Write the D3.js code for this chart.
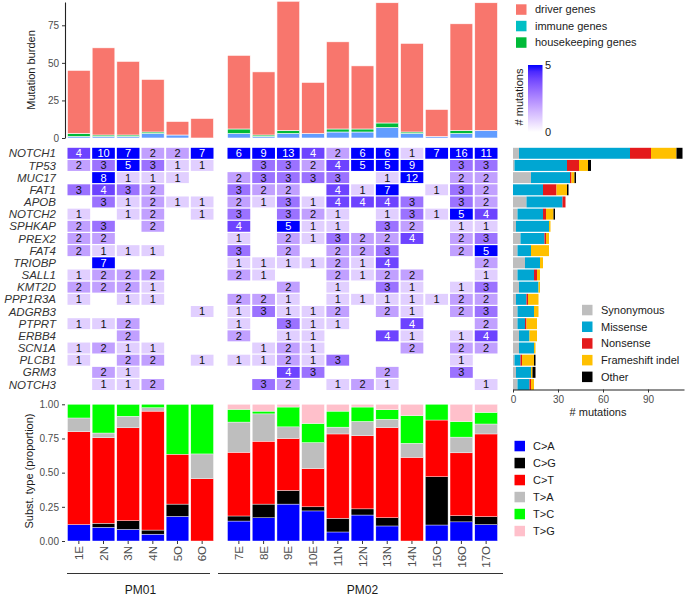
<!DOCTYPE html>
<html><head><meta charset="utf-8">
<script src="https://cdn.jsdelivr.net/npm/d3@7"></script>
<style>body{margin:0;background:#fff}svg{font-family:"Liberation Sans",Arial,sans-serif;display:block}</style>
</head><body><svg id="c" width="685" height="598"></svg>
<script>
// ---------------- DATA ----------------
const samplesPM01 = ["1E","2N","3N","4N","5O","6O"];
const samplesPM02 = ["7E","8E","9E","10E","11N","12N","13N","14N","15O","16O","17O"];
const groups = ["PM01","PM02"];

// mutation burden (stacked): immune / housekeeping / driver
const burdenImmune       = [1,1,1,3,2,0, 3,1,3,3,4,4,7,3,1,3,5];
const burdenHousekeeping = [2,1,1,1,0,0, 3,1,2,0,2,2,3,1,0,2,0];
const burdenDriver       = [42,58,49,35,9,13, 49,42,86,34,58,42,80,59,18,71,85];
const burdenTicks = [0,25,50,75];

const genes = ["NOTCH1","TP53","MUC17","FAT1","APOB","NOTCH2","SPHKAP","PREX2","FAT4","TRIOBP",
               "SALL1","KMT2D","PPP1R3A","ADGRB3","PTPRT","ERBB4","SCN1A","PLCB1","GRM3","NOTCH3"];

// # mutations per gene (rows) x sample (cols); 0 = none
const heatValues = [
 [4,10,7,2,2,7, 6,9,13,4,2,6,6,1,7,16,11],
 [2,3,5,3,1,1, 0,3,3,2,4,5,5,9,0,3,3],
 [0,8,1,1,1,0, 2,3,3,3,3,0,1,12,0,2,2],
 [3,4,3,2,0,0, 3,2,2,0,4,1,7,0,1,3,2],
 [0,3,1,2,1,1, 2,1,3,1,4,4,4,3,0,3,2],
 [1,0,1,2,0,1, 3,0,3,2,1,0,1,3,1,5,4],
 [2,3,0,2,0,0, 4,0,5,1,1,0,3,2,0,1,1],
 [2,2,0,0,0,0, 1,0,2,1,3,2,2,4,0,2,3],
 [2,1,1,1,0,0, 3,0,2,0,2,2,3,0,0,2,5],
 [0,7,0,0,0,0, 1,1,1,1,2,1,4,0,0,0,2],
 [1,2,2,2,0,0, 2,1,0,0,2,1,2,2,0,0,1],
 [2,2,2,1,0,0, 0,0,2,0,1,0,3,1,0,1,3],
 [1,0,1,1,0,0, 2,2,1,0,1,1,1,1,1,2,2],
 [0,0,0,0,0,1, 1,3,1,1,2,0,2,1,0,2,3],
 [1,1,2,0,0,0, 1,0,3,1,1,0,0,4,0,0,2],
 [0,0,2,0,0,0, 2,0,1,1,0,0,4,1,0,1,4],
 [1,2,1,1,0,0, 0,1,2,1,0,0,0,2,0,2,2],
 [1,0,2,2,0,1, 1,1,2,1,3,0,0,0,0,1,0],
 [0,2,1,0,0,0, 0,0,4,3,0,0,2,0,0,3,0],
 [0,1,1,2,0,0, 0,3,2,0,1,2,1,0,0,0,1]
];
const heatLegendTicks = [0,5];

// mutation type counts per gene
const mutSynonymous = [4,1,12,0,9,3,2,5,3,8,3,4,2,3,3,4,4,1,2,3];
const mutMissense   = [74,35,26,20,24,17,22,16,9,10,11,13,7,11,5,7,10,4,10,8];
const mutNonsense   = [14,8,1,9,2,2,0,1,0,0,2,0,1,0,1,0,0,1,0,1];
const mutFrameshift = [17,6,2,7,0,5,1,2,12,2,2,1,7,3,7,5,1,8,1,2];
const mutOther      = [4,2,1,1,0,1,0,0,0,0,0,0,0,0,0,0,0,1,2,0];
const mutTicks = [0,30,60,90];

// substitution type proportions per sample
const subCA = [.12,.10,.085,.05,.18,0, .146,.17,.27,.22,.066,.19,.11,0,.117,.14,.12];
const subCG = [0,.03,.063,.03,.09,0, .037,.10,.10,.03,.10,.045,.06,0,.353,.045,.058];
const subCT = [.68,.625,.68,.87,.365,.455, .466,.46,.38,.28,.617,.535,.66,.612,.415,.46,.605];
const subTA = [.10,.035,.085,.025,0,.182, .221,.20,.085,.19,.05,.105,.06,.103,0,.115,.073];
const subTC = [.10,.21,.086,.025,.364,.364, .093,.02,.145,.14,.117,.105,.07,.202,.115,.114,.085];
const subTG = [0,0,0,0,0,0, .037,.05,.02,.14,.05,.02,.04,.083,0,.127,.059];
const subTicks = [0,.25,.5,.75,1];

// ---------------- DRAW ----------------
const svg = d3.select("#c");
const allSamples = samplesPM01.concat(samplesPM02);
const xL = d3.scaleBand().domain(samplesPM01).range([67.5,213.5]).paddingInner(0.08);
const xR = d3.scaleBand().domain(samplesPM02).range([227.5,497.5]).paddingInner(0.08);
const inL = s => samplesPM01.includes(s);
const xS = s => inL(s) ? xL(s) : xR(s);
const bwS = s => inL(s) ? xL.bandwidth() : xR.bandwidth();
const tickCol = "#4d4d4d";

function styleAxis(g, fs){
  g.selectAll("text").attr("fill", tickCol).style("font-size", fs+"px");
  g.selectAll("line").attr("stroke", "#333");
  g.select(".domain").attr("stroke", "#222");
}

// ---- top: mutation burden ----
const yTop = d3.scaleLinear().domain([0,90.5]).range([138,2]);
const burdenRows = allSamples.map((s,i)=>({sample:s, immune:burdenImmune[i], housekeeping:burdenHousekeeping[i], driver:burdenDriver[i]}));
const burdenKeys = ["immune","housekeeping","driver"];
const burdenColors = {immune:"#619CFF", housekeeping:"#00BA38", driver:"#F8766D"};
const stTop = d3.stack().keys(burdenKeys)(burdenRows);
svg.append("g").selectAll("g").data(stTop).join("g").attr("fill", d=>burdenColors[d.key])
  .selectAll("rect").data(d=>d).join("rect")
  .attr("x", d=>xS(d.data.sample)).attr("width", d=>bwS(d.data.sample))
  .attr("y", d=>yTop(d[1])).attr("height", d=>Math.max(0, yTop(d[0])-yTop(d[1])))
  .attr("stroke","#fff").attr("stroke-width",0.6);
const gTopAx = svg.append("g").attr("transform","translate(65,0)")
  .call(d3.axisLeft(yTop).tickValues(burdenTicks).tickSize(3).tickSizeOuter(0));
styleAxis(gTopAx, 10);
gTopAx.select(".domain").attr("stroke-width",1.1);
svg.append("text").attr("transform","translate(35,70) rotate(-90)").attr("text-anchor","middle")
  .style("font-size","11px").attr("fill","#1a1a1a").text("Mutation burden");

// top legend
const topLegend = [["driver genes","#F8766D"],["immune genes","#00BFC4"],["housekeeping genes","#00BA38"]];
topLegend.forEach((d,i)=>{
  const cy = 9.5 + i*16.5;
  svg.append("rect").attr("x",516).attr("y",cy-5.2).attr("width",10.5).attr("height",10.5).attr("fill",d[1]);
  svg.append("text").attr("x",535).attr("y",cy).attr("dy","0.35em").style("font-size","11px").attr("fill","#1a1a1a").text(d[0]);
});

// ---- heatmap ----
const yG = d3.scaleBand().domain(genes).range([147.8,390]).paddingInner(0.1);
const heatColor = d3.scaleLinear().domain([0,5]).range(["#ffffff","#0000ff"]).interpolate(d3.interpolateLab).clamp(true);
const cells = [];
genes.forEach((g,i)=>allSamples.forEach((s,j)=>{ const v=heatValues[i][j]; if(v>0) cells.push({g,s,v}); }));
const gHeat = svg.append("g");
gHeat.selectAll("rect").data(cells).join("rect")
  .attr("x",d=>xS(d.s)).attr("width",d=>bwS(d.s))
  .attr("y",d=>yG(d.g)).attr("height",yG.bandwidth())
  .attr("fill",d=>heatColor(d.v));
gHeat.selectAll("text").data(cells).join("text")
  .attr("x",d=>xS(d.s)+bwS(d.s)/2).attr("y",d=>yG(d.g)+yG.bandwidth()/2).attr("dy","0.36em")
  .attr("text-anchor","middle").style("font-size","11px")
  .attr("fill",d=>d.v>=4?"#fff":"#111").text(d=>d.v);
svg.append("g").selectAll("text").data(genes).join("text")
  .attr("x",56).attr("y",d=>yG(d)+yG.bandwidth()/2).attr("dy","0.36em")
  .attr("text-anchor","end").style("font-size","11.5px").style("font-style","italic")
  .attr("fill","#333").text(d=>d);

// colorbar legend
const defs = svg.append("defs");
const grad = defs.append("linearGradient").attr("id","hg").attr("x1",0).attr("y1",1).attr("x2",0).attr("y2",0);
d3.range(0,1.0001,0.1).forEach(t=>grad.append("stop").attr("offset",t).attr("stop-color",heatColor(t*5)));
const cbY = d3.scaleLinear().domain([0,5]).range([132,65]);
svg.append("rect").attr("x",528).attr("y",cbY(5)).attr("width",14.5).attr("height",cbY(0)-cbY(5)).attr("fill","url(#hg)");
heatLegendTicks.forEach(t=>{
  svg.append("text").attr("x",545).attr("y",cbY(t)).attr("dy","0.36em").style("font-size","11px").attr("fill","#1a1a1a").text(t);
});
svg.append("text").attr("transform","translate(523,97) rotate(-90)").attr("text-anchor","middle")
  .style("font-size","11px").attr("fill","#1a1a1a").text("# mutations");

// ---- right: mutation types ----
const xM = d3.scaleLinear().domain([0,114]).range([513,684]);
const mutKeys = ["Synonymous","Missense","Nonsense","Frameshift indel","Other"];
const mutColors = ["#BEBEBE","#00A6D2","#E41A1C","#FFC000","#000000"];
const mutArrays = [mutSynonymous,mutMissense,mutNonsense,mutFrameshift,mutOther];
const mutRows = genes.map((g,i)=>{ const o={gene:g}; mutKeys.forEach((k,m)=>o[k]=mutArrays[m][i]); return o; });
const stM = d3.stack().keys(mutKeys)(mutRows);
svg.append("g").selectAll("g").data(stM).join("g").attr("fill",(d,i)=>mutColors[i])
  .selectAll("rect").data(d=>d).join("rect")
  .attr("x",d=>xM(d[0])).attr("width",d=>Math.max(0,xM(d[1])-xM(d[0])))
  .attr("y",d=>yG(d.data.gene)).attr("height",yG.bandwidth());
const gMAx = svg.append("g").attr("transform","translate(0,389.5)")
  .call(d3.axisBottom(xM).tickValues(mutTicks).tickSize(3).tickSizeOuter(0));
styleAxis(gMAx, 10);
gMAx.select(".domain").attr("stroke-width",1.1);
svg.append("text").attr("x",598).attr("y",416).attr("text-anchor","middle").style("font-size","11px").attr("fill","#1a1a1a").text("# mutations");
mutKeys.forEach((k,i)=>{
  const cy = 310 + i*16.7;
  svg.append("rect").attr("x",582).attr("y",cy-5.2).attr("width",10.5).attr("height",10.5).attr("fill",mutColors[i]);
  svg.append("text").attr("x",601).attr("y",cy).attr("dy","0.36em").style("font-size","11px").attr("fill","#1a1a1a").text(k);
});

// ---- bottom: substitution proportions ----
const yB = d3.scaleLinear().domain([0,1]).range([541,404.3]).clamp(true);
const subKeys = ["C>A","C>G","C>T","T>A","T>C","T>G"];
const subColors = ["#0000FF","#000000","#FF0000","#BEBEBE","#00FF00","#FFC0CB"];
const subArrays = [subCA,subCG,subCT,subTA,subTC,subTG];
const subRows = allSamples.map((s,j)=>{ const o={sample:s}; subKeys.forEach((k,m)=>o[k]=subArrays[m][j]); return o; });
const stB = d3.stack().keys(subKeys)(subRows);
svg.append("g").selectAll("g").data(stB).join("g").attr("fill",(d,i)=>subColors[i])
  .selectAll("rect").data(d=>d.filter(e=>e[1]-e[0]>0)).join("rect")
  .attr("x",d=>xS(d.data.sample)).attr("width",d=>bwS(d.data.sample))
  .attr("y",d=>yB(d[1])).attr("height",d=>Math.max(0,yB(d[0])-yB(d[1])))
  .attr("stroke","#fff").attr("stroke-width",0.4);
const gBAx = svg.append("g").attr("transform","translate(65,0)")
  .call(d3.axisLeft(yB).tickValues(subTicks).tickFormat(d3.format(".2f")).tickSize(3).tickSizeOuter(0));
styleAxis(gBAx, 10);
gBAx.select(".domain").remove();
svg.append("text").attr("transform","translate(33,471) rotate(-90)").attr("text-anchor","middle")
  .style("font-size","11px").attr("fill","#1a1a1a").text("Subst. type (proportion)");

[xL,xR].forEach(sc=>{
  const g = svg.append("g").attr("transform","translate(0,541)")
    .call(d3.axisBottom(sc).tickSize(3).tickSizeOuter(0));
  g.select(".domain").remove();
  g.selectAll("line").attr("stroke","#333");
  g.selectAll("text").attr("transform","rotate(-90)").attr("x",-5).attr("y",0).attr("dy","0.36em")
    .attr("text-anchor","end").attr("fill",tickCol).style("font-size","11.5px");
});

// group brackets
[[xL,samplesPM01,groups[0],67,210],[xR,samplesPM02,groups[1],218,503]].forEach(([sc,arr,name,a,b])=>{
  svg.append("line").attr("x1",a).attr("x2",b).attr("y1",573.5).attr("y2",573.5).attr("stroke","#333").attr("stroke-width",1.1);
  svg.append("text").attr("x",(sc(arr[0])+sc(arr[arr.length-1])+sc.bandwidth())/2).attr("y",594)
    .attr("text-anchor","middle").style("font-size","12px").attr("fill","#1a1a1a").text(name);
});

// substitution legend
subKeys.forEach((k,i)=>{
  const cy = 446 + i*17;
  svg.append("rect").attr("x",514.5).attr("y",cy-5.2).attr("width",10.5).attr("height",10.5).attr("fill",subColors[i]);
  svg.append("text").attr("x",533).attr("y",cy).attr("dy","0.36em").style("font-size","11px").attr("fill","#1a1a1a").text(k);
});
</script></body></html>
